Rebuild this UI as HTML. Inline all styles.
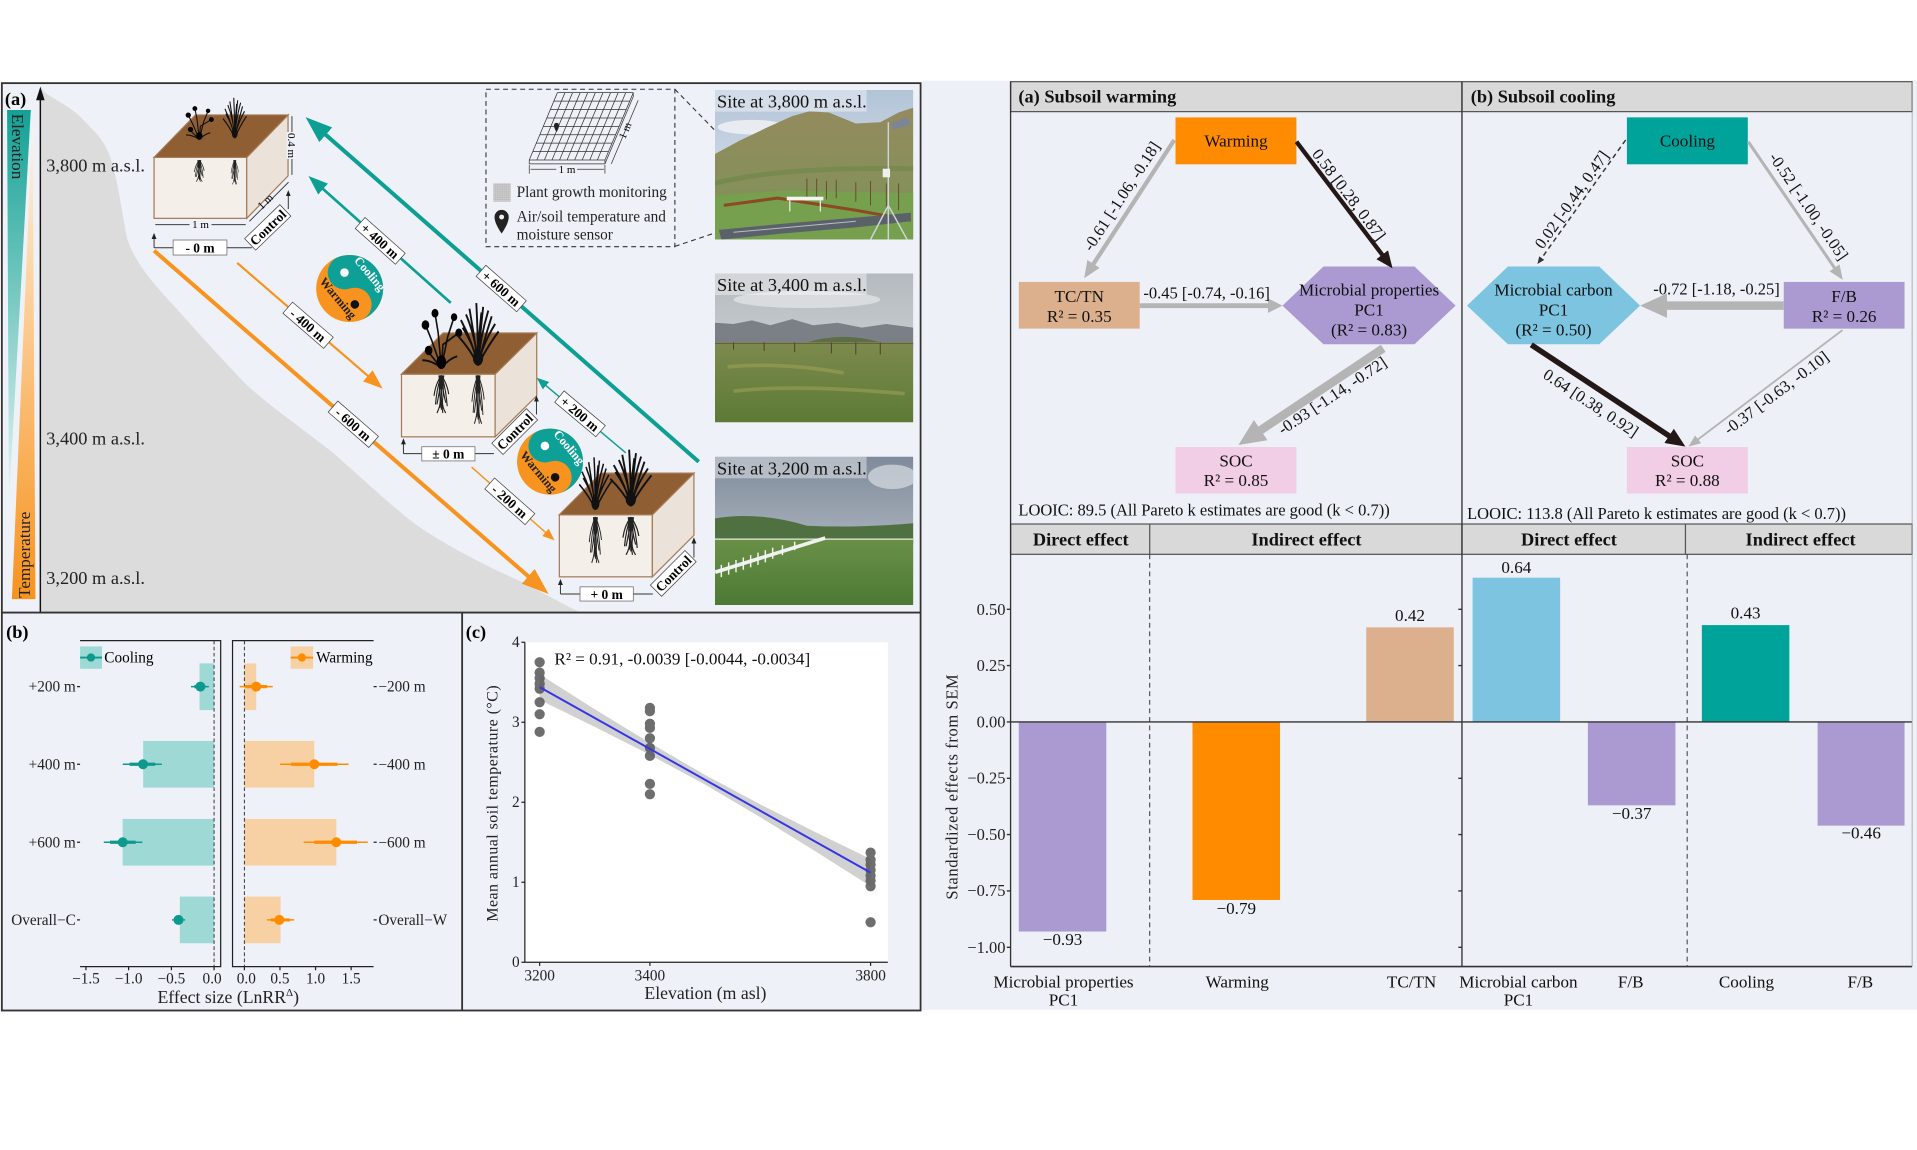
<!DOCTYPE html>
<html><head><meta charset="utf-8"><title>Figure</title>
<style>html,body{margin:0;padding:0;background:#fff;overflow:hidden}svg{display:block}</style>
</head><body>
<svg xmlns="http://www.w3.org/2000/svg" width="1917" height="1150" viewBox="0 0 1568 940.6" preserveAspectRatio="none" font-family="'Liberation Serif','Times New Roman',serif">
<defs>
<linearGradient id="gTeal" x1="0" y1="0" x2="0" y2="1"><stop offset="0" stop-color="#14a195"/><stop offset="1" stop-color="#e6f5f3"/></linearGradient>
<linearGradient id="gOr" x1="0" y1="1" x2="0" y2="0"><stop offset="0" stop-color="#f7931e"/><stop offset="1" stop-color="#fff4e6"/></linearGradient>
<linearGradient id="sky1" x1="0" y1="0" x2="0" y2="1"><stop offset="0" stop-color="#b3c4d8"/><stop offset="1" stop-color="#e2e8ee"/></linearGradient>
<linearGradient id="hill1" x1="0" y1="0" x2="0" y2="1"><stop offset="0" stop-color="#948a5e"/><stop offset=".6" stop-color="#86905a"/><stop offset="1" stop-color="#74954c"/></linearGradient>
<linearGradient id="sky2" x1="0" y1="0" x2="0" y2="1"><stop offset="0" stop-color="#b4babf"/><stop offset="1" stop-color="#dadddf"/></linearGradient>
<linearGradient id="grass2" x1="0" y1="0" x2="0" y2="1"><stop offset="0" stop-color="#7d8a4e"/><stop offset="1" stop-color="#5c7a35"/></linearGradient>
<linearGradient id="sky3" x1="0" y1="0" x2="0" y2="1"><stop offset="0" stop-color="#7f8b9b"/><stop offset=".6" stop-color="#a9b1bc"/><stop offset="1" stop-color="#c5cace"/></linearGradient>
<linearGradient id="grass3" x1="0" y1="0" x2="0" y2="1"><stop offset="0" stop-color="#6a9047"/><stop offset="1" stop-color="#4c7a34"/></linearGradient>
<pattern id="pg" width="1.6" height="1.6" patternUnits="userSpaceOnUse"><path d="M0,0H1.6M0,0V1.6" stroke="#8a8a8a" stroke-width=".4"/></pattern>
<clipPath id="cp1"><rect x="584.8" y="73.6" width="162.2" height="122.2"/></clipPath>
<clipPath id="cp2"><rect x="584.8" y="223.6" width="162.2" height="121.8"/></clipPath>
<clipPath id="cp3"><rect x="584.8" y="373.5" width="162.2" height="121.3"/></clipPath>
<marker id="mT1" viewBox="0 0 10 10" refX="5" refY="5" markerWidth="22" markerHeight="16" markerUnits="userSpaceOnUse" orient="auto" preserveAspectRatio="none"><path d="M0,0L10,5L0,10z" fill="#0e9f94"/></marker>
<marker id="mT2" viewBox="0 0 10 10" refX="5" refY="5" markerWidth="16" markerHeight="12" markerUnits="userSpaceOnUse" orient="auto" preserveAspectRatio="none"><path d="M0,0L10,5L0,10z" fill="#0e9f94"/></marker>
<marker id="mT3" viewBox="0 0 10 10" refX="5" refY="5" markerWidth="10" markerHeight="8" markerUnits="userSpaceOnUse" orient="auto" preserveAspectRatio="none"><path d="M0,0L10,5L0,10z" fill="#0e9f94"/></marker>
<marker id="mO1" viewBox="0 0 10 10" refX="5" refY="5" markerWidth="22" markerHeight="16" markerUnits="userSpaceOnUse" orient="auto" preserveAspectRatio="none"><path d="M0,0L10,5L0,10z" fill="#f7931e"/></marker>
<marker id="mO2" viewBox="0 0 10 10" refX="5" refY="5" markerWidth="16" markerHeight="12" markerUnits="userSpaceOnUse" orient="auto" preserveAspectRatio="none"><path d="M0,0L10,5L0,10z" fill="#f7931e"/></marker>
<marker id="mO3" viewBox="0 0 10 10" refX="5" refY="5" markerWidth="10" markerHeight="8" markerUnits="userSpaceOnUse" orient="auto" preserveAspectRatio="none"><path d="M0,0L10,5L0,10z" fill="#f7931e"/></marker>
<marker id="mG1" viewBox="0 0 10 10" refX="5" refY="5" markerWidth="14" markerHeight="12" markerUnits="userSpaceOnUse" orient="auto" preserveAspectRatio="none"><path d="M0,0L10,5L0,10z" fill="#b4b4b4"/></marker>
<marker id="mG2" viewBox="0 0 10 10" refX="5" refY="5" markerWidth="12" markerHeight="12" markerUnits="userSpaceOnUse" orient="auto" preserveAspectRatio="none"><path d="M0,0L10,5L0,10z" fill="#b4b4b4"/></marker>
<marker id="mG3" viewBox="0 0 10 10" refX="5" refY="5" markerWidth="22" markerHeight="20" markerUnits="userSpaceOnUse" orient="auto" preserveAspectRatio="none"><path d="M0,0L10,5L0,10z" fill="#b4b4b4"/></marker>
<marker id="mG4" viewBox="0 0 10 10" refX="5" refY="5" markerWidth="12" markerHeight="10" markerUnits="userSpaceOnUse" orient="auto" preserveAspectRatio="none"><path d="M0,0L10,5L0,10z" fill="#b4b4b4"/></marker>
<marker id="mG5" viewBox="0 0 10 10" refX="5" refY="5" markerWidth="10" markerHeight="8" markerUnits="userSpaceOnUse" orient="auto" preserveAspectRatio="none"><path d="M0,0L10,5L0,10z" fill="#b4b4b4"/></marker>
<marker id="mK1" viewBox="0 0 10 10" refX="5" refY="5" markerWidth="14" markerHeight="12" markerUnits="userSpaceOnUse" orient="auto" preserveAspectRatio="none"><path d="M0,0L10,5L0,10z" fill="#231815"/></marker>
<marker id="mK2" viewBox="0 0 10 10" refX="5" refY="5" markerWidth="16" markerHeight="14" markerUnits="userSpaceOnUse" orient="auto" preserveAspectRatio="none"><path d="M0,0L10,5L0,10z" fill="#231815"/></marker>
<marker id="mD" viewBox="0 0 10 10" refX="5" refY="5" markerWidth="6" markerHeight="5" markerUnits="userSpaceOnUse" orient="auto" preserveAspectRatio="none"><path d="M0,0L10,5L0,10z" fill="#333"/></marker>
<marker id="mS" viewBox="0 0 10 10" refX="5" refY="5" markerWidth="5" markerHeight="4" markerUnits="userSpaceOnUse" orient="auto" preserveAspectRatio="none"><path d="M0,0L10,5L0,10z" fill="#222"/></marker>
<g id="grass"><path d="M0,0 Q-3,-12 -10,-24 M0,0 Q-2,-15 -5,-30 M0,0 Q0,-16 -1,-33 M0,0 Q1,-15 3,-31 M0,0 Q3,-12 8,-26 M0,0 Q4,-8 12,-18 M0,0 Q-4,-8 -12,-16 M0,0 Q1,-14 6,-29 M0,0 Q-1,-14 -7,-27 M0,0 Q-2,-10 -9,-20 M0,0 Q2,-10 10,-22 M0,0 Q0,-12 2,-28" stroke="#111" stroke-width="1.1" fill="none"/><ellipse cx="0" cy="-4" rx="3" ry="4" fill="#111"/></g>
<g id="flower"><path d="M0,0 L-6,-14 L-10,-22 M0,0 L-2,-18 L-4,-28 M0,0 L4,-16 L8,-26 M0,0 L1,-12 L11,-18 M0,0 L-8,-8 M0,0 Q-6,-4 -12,-4 M0,0 Q5,-5 10,-6" stroke="#111" stroke-width="1" fill="none"/><circle cx="-10" cy="-22" r="2.4"/><circle cx="-4" cy="-28" r="2.2"/><circle cx="8" cy="-26" r="2"/><circle cx="11" cy="-18" r="2.2"/><circle cx="-8" cy="-9" r="2.4"/><ellipse cx="0" cy="-3" rx="3" ry="3.5"/></g>
<g id="roots"><path d="M0,0 q-2,6 -1,12 q1,5 -2,10 M0,0 q2,6 1,13 q-1,5 2,9 M0,0 q0,8 0,20 M0,0 q-4,5 -5,12 M0,0 q4,5 5,11 M0,0 q-1,9 -3,17 M0,0 q1,9 3,16 M0,0 q-3,7 -4,17 M0,0 q3,7 4,18 M0,0 q-1,10 1,22 M0,0 q1,8 -1,19" stroke="#222" stroke-width=".75" fill="none"/><path d="M-2,0 L2,0 L1,8 L-1,8 Z" fill="#222"/></g>
</defs>

<!-- ============ LEFT FIGURE ============ -->
<rect x="1.5" y="68" width="751.5" height="758.5" fill="#eef2f8"/>
<path d="M33,70 L36,75 C45,82 60,88 70,100 C80,110 88,118 92,135 C97,152 100,175 104,195 C110,215 128,235 145,253 C160,270 180,292 199,312 C215,328 240,345 272,370 C295,390 318,412 340,429 C365,446 395,462 427,476 C445,485 460,494 475,501 L33,501 Z" fill="#dcdcdc"/>
<polygon points="5.8,90 25.2,90 7.3,411" fill="url(#gTeal)"/>
<polygon points="9.7,490 29,490 26.7,98.7" fill="url(#gOr)"/>
<text transform="translate(10,93) rotate(90)" font-size="14" fill="#222">Elevation</text>
<text transform="translate(24.4,489) rotate(-90)" font-size="14" fill="#222">Temperature</text>
<line x1="33" y1="501" x2="33" y2="80" stroke="#111" stroke-width="1.2"/>
<polygon points="33,71 29.5,82 36.5,82" fill="#111"/>
<text x="4" y="86" font-size="15" font-weight="bold">(a)</text>
<text x="37.8" y="140.2" font-size="15" fill="#222">3,800 m a.s.l.</text>
<text x="37.8" y="363.7" font-size="15" fill="#222">3,400 m a.s.l.</text>
<text x="37.8" y="477.6" font-size="15" fill="#222">3,200 m a.s.l.</text>

<!-- arrows -->
<line x1="571.5" y1="377.7" x2="258.2" y2="103" stroke="#0e9f94" stroke-width="3.3" marker-end="url(#mT1)"/>
<line x1="368.7" y1="247.7" x2="258.3" y2="149.3" stroke="#0e9f94" stroke-width="2.2" marker-end="url(#mT2)"/>
<line x1="511.8" y1="370.4" x2="442.8" y2="312.2" stroke="#0e9f94" stroke-width="1.2" marker-end="url(#mT3)"/>
<line x1="126" y1="205" x2="440.4" y2="478.6" stroke="#f7931e" stroke-width="3.3" marker-end="url(#mO1)"/>
<line x1="194" y1="215" x2="306.9" y2="312.6" stroke="#f7931e" stroke-width="1.8" marker-end="url(#mO2)"/>
<line x1="385.7" y1="382" x2="449.9" y2="438.7" stroke="#f7931e" stroke-width="1.2" marker-end="url(#mO3)"/>

<!-- cubes -->
<g stroke="#a57a55" stroke-width="1">
<rect x="126" y="128.7" width="75.8" height="49.9" fill="#f4efe9"/>
<polygon points="201.8,128.7 235.6,94 235.6,143.9 201.8,178.6" fill="#ebe3da"/>
<polygon points="126,128.7 201.8,128.7 235.6,94 159.8,94" fill="#8f5e32"/>
<rect x="328.4" y="306" width="76.6" height="51.3" fill="#f4efe9"/>
<polygon points="405,306 439,272.4 439,323.7 405,357.3" fill="#ebe3da"/>
<polygon points="328.4,306 405,306 439,272.4 362.4,272.4" fill="#8f5e32"/>
<rect x="457.5" y="421" width="76.1" height="50.8" fill="#f4efe9"/>
<polygon points="533.6,421 567.6,387 567.6,437.8 533.6,471.8" fill="#ebe3da"/>
<polygon points="457.5,421 533.6,421 567.6,387 491.5,387" fill="#8f5e32"/>
</g>
<!-- plants -->
<use href="#flower" transform="translate(163,114) scale(0.9)"/>
<use href="#grass" transform="translate(192,113) scale(0.8,1)"/>
<use href="#roots" transform="translate(163,131) scale(0.8)"/>
<use href="#roots" transform="translate(192,131) scale(0.6,0.9)"/>
<use href="#flower" transform="translate(361,301) scale(1.3,1.6)"/>
<use href="#grass" transform="translate(391,299) scale(1.4,1.55)"/>
<use href="#roots" transform="translate(361,307) scale(1.2,1.4)"/>
<use href="#roots" transform="translate(391,307) scale(1,1.8)"/>
<use href="#grass" transform="translate(487,417) scale(1.1,1.3)"/>
<use href="#grass" transform="translate(516,414) scale(1.4)"/>
<use href="#roots" transform="translate(487,423) scale(1,1.7)"/>
<use href="#roots" transform="translate(516,423) scale(1.3,1.4)"/>

<!-- cube dims -->
<g stroke="#222" stroke-width=".7" fill="none">
<line x1="127" y1="183.8" x2="201" y2="183.8"/>
<line x1="238.8" y1="95" x2="238.8" y2="143"/>
<line x1="204" y1="181" x2="236" y2="149"/>
</g>
<rect x="155" y="179.5" width="18" height="8" fill="#eef2f8"/>
<text x="164" y="186.5" font-size="9" text-anchor="middle">1 m</text>
<rect x="234.5" y="108" width="8.5" height="22" fill="#eef2f8"/>
<text transform="translate(235.5,119) rotate(90)" font-size="9" text-anchor="middle">0.4 m</text>
<text transform="translate(219,167) rotate(-44)" font-size="9" text-anchor="middle">1 m</text>
<!-- brackets -->
<g stroke="#333" stroke-width=".8" fill="none">
<path d="M126,202.6 H142 M185.6,202.6 H206"/>
<line x1="126" y1="202.6" x2="126" y2="193" marker-end="url(#mS)"/>
<line x1="235.8" y1="171" x2="235.8" y2="158" marker-end="url(#mS)"/>
<path d="M330,371 H345 M388.5,371 H404"/>
<line x1="330" y1="371" x2="330" y2="361" marker-end="url(#mS)"/>
<line x1="438.8" y1="339" x2="438.8" y2="326" marker-end="url(#mS)"/>
<path d="M458.4,485.8 H474.4 M518,485.8 H534"/>
<line x1="458.4" y1="485.8" x2="458.4" y2="476" marker-end="url(#mS)"/>
<line x1="567.6" y1="456" x2="567.6" y2="442" marker-end="url(#mS)"/>
</g>
<g font-weight="bold" font-size="11">
<rect x="141.6" y="196.3" width="44" height="12.3" fill="#fff" stroke="#666" stroke-width=".6"/>
<text x="163.6" y="206.5" text-anchor="middle">- 0 m</text>
<rect x="345" y="365.4" width="43.5" height="11.6" fill="#fff" stroke="#666" stroke-width=".6"/>
<text x="366.7" y="375" text-anchor="middle">± 0 m</text>
<rect x="474.4" y="480" width="43.6" height="11.6" fill="#fff" stroke="#666" stroke-width=".6"/>
<text x="496.2" y="489.8" text-anchor="middle">+ 0 m</text>
<g transform="translate(219,186) rotate(-44)"><rect x="-20" y="-6.5" width="40" height="13" fill="#fff" stroke="#444" stroke-width=".6"/><text y="4" text-anchor="middle">Control</text></g>
<g transform="translate(421,353) rotate(-45)"><rect x="-20" y="-6.5" width="40" height="13" fill="#fff" stroke="#444" stroke-width=".6"/><text y="4" text-anchor="middle">Control</text></g>
<g transform="translate(550.7,469) rotate(-45)"><rect x="-20" y="-6.5" width="40" height="13" fill="#fff" stroke="#444" stroke-width=".6"/><text y="4" text-anchor="middle">Control</text></g>
<g transform="translate(410,236) rotate(41.2)"><rect x="-22" y="-6" width="44" height="12" fill="#fff" stroke="#444" stroke-width=".6"/><text y="4" text-anchor="middle">+ 600 m</text></g>
<g transform="translate(311,197) rotate(41.7)"><rect x="-22" y="-6" width="44" height="12" fill="#fff" stroke="#444" stroke-width=".6"/><text y="4" text-anchor="middle">+ 400 m</text></g>
<g transform="translate(474.4,338.5) rotate(40.1)"><rect x="-22" y="-6" width="44" height="12" fill="#fff" stroke="#444" stroke-width=".6"/><text y="4" text-anchor="middle">+ 200 m</text></g>
<g transform="translate(289,347) rotate(41)"><rect x="-22" y="-6" width="44" height="12" fill="#fff" stroke="#444" stroke-width=".6"/><text y="4" text-anchor="middle">- 600 m</text></g>
<g transform="translate(252,266) rotate(40.8)"><rect x="-22" y="-6" width="44" height="12" fill="#fff" stroke="#444" stroke-width=".6"/><text y="4" text-anchor="middle">- 400 m</text></g>
<g transform="translate(417,410) rotate(41.5)"><rect x="-22" y="-6" width="44" height="12" fill="#fff" stroke="#444" stroke-width=".6"/><text y="4" text-anchor="middle">- 200 m</text></g>
</g>
<!-- yin yang -->
<g transform="translate(286,236) rotate(-18)">
<circle r="27.4" fill="#f7931e"/>
<path d="M0,-27.4 A27.4,27.4 0 0 1 0,27.4 A13.7,13.7 0 0 0 0,0 A13.7,13.7 0 0 1 0,-27.4 Z" fill="#0ea096"/>
<circle cy="-13.7" r="3.5" fill="#fff"/><circle cy="13.7" r="3.5" fill="#111"/>
</g>
<text transform="translate(300,226) rotate(50)" font-size="10" font-weight="bold" fill="#fff" text-anchor="middle">Cooling</text>
<text transform="translate(274,246) rotate(50)" font-size="10" font-weight="bold" fill="#222" text-anchor="middle">Warming</text>
<g transform="translate(449.9,377.6) rotate(-18)">
<circle r="27" fill="#f7931e"/>
<path d="M0,-27 A27,27 0 0 1 0,27 A13.5,13.5 0 0 0 0,0 A13.5,13.5 0 0 1 0,-27 Z" fill="#0ea096"/>
<circle cy="-13.5" r="3.5" fill="#fff"/><circle cy="13.5" r="3.5" fill="#111"/>
</g>
<text transform="translate(463,368) rotate(50)" font-size="10" font-weight="bold" fill="#fff" text-anchor="middle">Cooling</text>
<text transform="translate(438,388) rotate(50)" font-size="10" font-weight="bold" fill="#222" text-anchor="middle">Warming</text>

<!-- inset -->
<rect x="397.5" y="73" width="154.5" height="128.8" fill="none" stroke="#333" stroke-width=".9" stroke-dasharray="4 3"/>
<path d="M552,73 L624,147 M552,201.5 L584,190.8" stroke="#333" stroke-width=".9" stroke-dasharray="4 3" fill="none"/>
<path d="M455.9,75.8L432.9,130.9M462.1,75.8L439.1,130.9M468.3,75.8L445.3,130.9M474.5,75.8L451.5,130.9M480.7,75.8L457.7,130.9M486.95,75.8L463.85,130.9M493.2,75.8L470,130.9M499.4,75.8L476.2,130.9M505.6,75.8L482.4,130.9M511.8,75.8L488.6,130.9M518,75.8L494.8,130.9M455.9,75.8H518M453,82.7H515.1M450.15,89.6H512.2M447.3,96.5H509.3M444.4,103.35H506.4M441.5,110.2H503.5M438.65,117.1H500.6M435.8,124H497.7M432.9,130.9H494.8M432.9,130.9V134H494.8V130.9M494.8,134L518,79V75.8" stroke="#333" stroke-width=".6" fill="none"/>
<path d="M455.2,108 C452.5,104 452.4,100.5 455.2,100.5 C458,100.5 457.9,104 455.2,108 Z" fill="#222"/>
<g stroke="#333" stroke-width=".6" fill="none"><path d="M432.9,135V142M494.8,135V142M434,138.4H455M472,138.4H494"/><path d="M522,82L500,134"/></g>
<text x="463.8" y="141.5" font-size="9" text-anchor="middle">1 m</text>
<text transform="translate(514,108) rotate(-67)" font-size="9" text-anchor="middle">1 m</text>
<rect x="403.5" y="150" width="14.2" height="15" fill="#d6d6d6"/>
<rect x="403.5" y="150" width="14.2" height="15" fill="url(#pg)"/>
<text x="422.6" y="161" font-size="12.5" fill="#222">Plant growth monitoring</text>
<path d="M410.3,191 C405.5,184 404.5,180 404.5,177.5 A5.8,5.8 0 0 1 416.1,177.5 C416.1,180 415.1,184 410.3,191 Z" fill="#222"/>
<circle cx="410.3" cy="177.5" r="2" fill="#eef2f8"/>
<text x="422.6" y="181" font-size="12.5" fill="#222">Air/soil temperature and</text>
<text x="422.6" y="196" font-size="12.5" fill="#222">moisture sensor</text>

<!-- photo 1 -->
<g clip-path="url(#cp1)">
<rect x="584.8" y="73.6" width="162.2" height="122.2" fill="url(#sky1)"/>
<ellipse cx="615" cy="104" rx="28" ry="6" fill="#f2f4f6" opacity=".8"/>
<path d="M584.8,126 L605,115 L628,104 L648,95 L662,91 L678,92 L700,101 L720,100 L735,92 L747,88 L747,196 L584.8,196 Z" fill="url(#hill1)"/>
<path d="M584.8,150 Q640,136 747,138" stroke="#6d8746" stroke-width="4" fill="none" opacity=".6"/>
<path d="M584.8,160 L640,156 L747,158 L747,196 L584.8,196 Z" fill="#76a04e"/>
<path d="M660,146V162M668,146V161M676,148V163M684,147V162M700,149V165M712,148V168M725,150V170M735,150V172" stroke="#6a4a30" stroke-width=".8"/>
<path d="M592,168 L636,162 L700,172 L745,180" stroke="#8c4a24" stroke-width="2.5" fill="none"/>
<path d="M588,188 L640,183 L700,178 L745,174 L745,181 L700,186 L640,191 L590,196 Z" fill="#5a6169"/>
<path d="M600,190 L700,181" stroke="#b8bec6" stroke-width=".8"/>
<rect x="643.5" y="160.9" width="30" height="3" fill="#f4f4f4"/>
<path d="M646,164V173M671,164V173" stroke="#eee" stroke-width="1"/>
<path d="M726.6,100V196M726.6,168L712,196M726.6,168L742,196" stroke="#d0d4d8" stroke-width="1.2"/>
<rect x="722" y="138" width="6" height="7" fill="#f0f0f0"/>
<path d="M728,101 L742,96 L745,102 L731,106 Z" fill="#7a8696"/>
</g>
<rect x="584.8" y="73.6" width="124" height="17.7" fill="#fff" opacity=".4"/>
<text x="586.5" y="88" font-size="15" fill="#111">Site at 3,800 m a.s.l.</text>
<!-- photo 2 -->
<g clip-path="url(#cp2)">
<rect x="584.8" y="223.6" width="162.2" height="121.8" fill="url(#sky2)"/>
<ellipse cx="660" cy="245" rx="60" ry="7" fill="#eceef0" opacity=".6"/>
<path d="M584.8,264 L600,265 L615,262 L630,266 L648,261 L665,266 L685,264 L705,268 L725,265 L747,268 L747,285 L584.8,285 Z" fill="#7b7f86"/>
<path d="M660,280 Q690,271 720,280 Z" fill="#5d6e45"/>
<rect x="584.8" y="280" width="162.2" height="66" fill="url(#grass2)"/>
<path d="M584.8,281H747" stroke="#5a4a3a" stroke-width=".6"/>
<path d="M600,280V286M625,280V287M650,280V288M680,280V289M700,280V290M720,280V290" stroke="#4e3f30" stroke-width=".8"/>
<path d="M595,300 Q640,296 690,305 M600,320 Q650,314 740,322" stroke="#a4a55a" stroke-width="3" fill="none" opacity=".5"/>
</g>
<rect x="584.8" y="223.6" width="124" height="17.7" fill="#fff" opacity=".4"/>
<text x="586.5" y="238" font-size="15" fill="#111">Site at 3,400 m a.s.l.</text>
<!-- photo 3 -->
<g clip-path="url(#cp3)">
<rect x="584.8" y="373.5" width="162.2" height="121.3" fill="url(#sky3)"/>
<ellipse cx="730" cy="390" rx="20" ry="10" fill="#d8dde3" opacity=".7"/>
<path d="M584.8,424 Q620,418 660,430 Q700,432 747,428 L747,445 L584.8,445 Z" fill="#4f7040"/>
<rect x="584.8" y="440" width="162.2" height="55" fill="url(#grass3)"/>
<path d="M584.8,441H747" stroke="#e8e8e8" stroke-width="1"/>
<path d="M585,468 L675,440" stroke="#f0f0f0" stroke-width="3"/>
<path d="M590,462V472M596,460V470M602,458V468M608,456V466M614,454V464M620,452V462M626,450V460M632,448V457M640,446V454M650,443V450" stroke="#f4f4f4" stroke-width="1.2"/>
</g>
<rect x="584.8" y="373.5" width="124" height="17.7" fill="#fff" opacity=".4"/>
<text x="586.5" y="388" font-size="15" fill="#111">Site at 3,200 m a.s.l.</text>

<!-- frames -->
<rect x="1.5" y="68" width="751.5" height="758.5" fill="none" stroke="#333" stroke-width="1.5"/>
<line x1="1.5" y1="501" x2="753" y2="501" stroke="#333" stroke-width="1.5"/>
<line x1="378" y1="501" x2="378" y2="826.5" stroke="#333" stroke-width="1.5"/>

<!-- ============ PANEL B ============ -->
<text x="5" y="522" font-size="15" font-weight="bold">(b)</text>
<g fill="#9fd9d6">
<rect x="163.2" y="542.6" width="11.9" height="38.2"/>
<rect x="117.1" y="606" width="58" height="38.2"/>
<rect x="100.3" y="669.8" width="74.8" height="38.2"/>
<rect x="147.1" y="733.3" width="28" height="38.2"/>
</g>
<g fill="#f7d1a4">
<rect x="199.9" y="542.6" width="9.7" height="38.2"/>
<rect x="199.9" y="606" width="57.2" height="38.2"/>
<rect x="199.9" y="669.8" width="75.2" height="38.2"/>
<rect x="199.9" y="733.3" width="29.6" height="38.2"/>
</g>
<g stroke="#222" stroke-width="1" fill="none">
<path d="M65.5,524H180.5V790.6H65.5"/>
<path d="M305.6,524H190.2V790.6H305.6"/>
<path d="M70.3,790.6v3M105.2,790.6v3M140.2,790.6v3M175.1,790.6v3M199.9,790.6v3M229,790.6v3M258.1,790.6v3M287.2,790.6v3"/>
<path d="M63,561.6h2.5M63,625.1h2.5M63,688.9h2.5M63,752.4h2.5M305.6,561.6h2.5M305.6,625.1h2.5M305.6,688.9h2.5M305.6,752.4h2.5"/>
</g>
<g stroke="#333" stroke-width=".8" stroke-dasharray="3 2"><line x1="175.1" y1="524" x2="175.1" y2="790.6"/><line x1="199.9" y1="524" x2="199.9" y2="790.6"/></g>
<rect x="65.5" y="528.7" width="17.9" height="18.3" fill="#9fd9d6"/>
<line x1="65.5" y1="537.8" x2="83.4" y2="537.8" stroke="#0d9a8e" stroke-width="1.5"/><circle cx="74.4" cy="537.8" r="3.4" fill="#0d9a8e"/>
<text x="85.3" y="542" font-size="12.5">Cooling</text>
<rect x="237.7" y="528.7" width="18.4" height="18.3" fill="#f7d1a4"/>
<line x1="237.7" y1="537.8" x2="256.1" y2="537.8" stroke="#ff8c00" stroke-width="1.5"/><circle cx="246.9" cy="537.8" r="3.4" fill="#ff8c00"/>
<text x="258.6" y="542" font-size="12.5">Warming</text>
<g stroke="#0d9a8e">
<line x1="156.2" y1="561.6" x2="170.8" y2="561.6" stroke-width="1.2"/><line x1="159" y1="561.6" x2="168" y2="561.6" stroke-width="2.6"/>
<line x1="100.4" y1="625.1" x2="132.4" y2="625.1" stroke-width="1.2"/><line x1="106" y1="625.1" x2="127" y2="625.1" stroke-width="2.6"/>
<line x1="84.9" y1="688.9" x2="116.4" y2="688.9" stroke-width="1.2"/><line x1="90" y1="688.9" x2="111" y2="688.9" stroke-width="2.6"/>
<line x1="140.7" y1="752.4" x2="151.4" y2="752.4" stroke-width="1.2"/><line x1="142.5" y1="752.4" x2="149.5" y2="752.4" stroke-width="2.6"/>
</g>
<g fill="#0d9a8e"><circle cx="163.9" cy="561.6" r="4.1"/><circle cx="117" cy="625.1" r="4.1"/><circle cx="100.4" cy="688.9" r="4.1"/><circle cx="146" cy="752.4" r="4.1"/></g>
<g stroke="#ff8c00">
<line x1="196" y1="561.6" x2="223.1" y2="561.6" stroke-width="1.2"/><line x1="200.5" y1="561.6" x2="218.5" y2="561.6" stroke-width="2.6"/>
<line x1="229" y1="625.1" x2="285.2" y2="625.1" stroke-width="1.2"/><line x1="238" y1="625.1" x2="276" y2="625.1" stroke-width="2.6"/>
<line x1="248.4" y1="688.9" x2="300.8" y2="688.9" stroke-width="1.2"/><line x1="257" y1="688.9" x2="292" y2="688.9" stroke-width="2.6"/>
<line x1="218.3" y1="752.4" x2="240.6" y2="752.4" stroke-width="1.2"/><line x1="221.5" y1="752.4" x2="237" y2="752.4" stroke-width="2.6"/>
</g>
<g fill="#ff8c00"><circle cx="209.6" cy="561.6" r="4.1"/><circle cx="257.1" cy="625.1" r="4.1"/><circle cx="275.1" cy="688.9" r="4.1"/><circle cx="228.5" cy="752.4" r="4.1"/></g>
<g font-size="12.5" fill="#222">
<text x="62" y="565.8" text-anchor="end">+200 m</text>
<text x="62" y="629.3" text-anchor="end">+400 m</text>
<text x="62" y="693.1" text-anchor="end">+600 m</text>
<text x="62" y="756.6" text-anchor="end">Overall−C</text>
<text x="309.5" y="565.8">−200 m</text>
<text x="309.5" y="629.3">−400 m</text>
<text x="309.5" y="693.1">−600 m</text>
<text x="309.5" y="756.6">Overall−W</text>
<g text-anchor="middle">
<text x="70.3" y="804.5">−1.5</text><text x="105.2" y="804.5">−1.0</text><text x="140.2" y="804.5">−0.5</text><text x="173.5" y="804.5">0.0</text>
<text x="201.5" y="804.5">0.0</text><text x="229" y="804.5">0.5</text><text x="258.1" y="804.5">1.0</text><text x="287.2" y="804.5">1.5</text>
</g>
</g>
<text x="186.7" y="820.5" font-size="14.5" text-anchor="middle" fill="#222">Effect size (LnRR<tspan font-size="9" dy="-6">Δ</tspan><tspan dy="6">)</tspan></text>

<!-- ============ PANEL C ============ -->
<text x="381" y="522" font-size="15" font-weight="bold">(c)</text>
<rect x="429.3" y="525.3" width="296.9" height="261.7" fill="#fff"/>
<path d="M441.4,551.5 L486.5,580.1 L531.6,607.6 L576.8,633.9 L621.9,657.9 L667,680.6 L712.1,702.6 L712.1,724.9 L667,696.3 L621.9,668.4 L576.8,641.8 L531.6,617.4 L486.5,594.5 L441.4,572.4 Z" fill="#c9c9c9" opacity=".85"/>
<g fill="#555" opacity=".85">
<circle cx="441.4" cy="541.7" r="4.2"/><circle cx="441.4" cy="550.2" r="4.2"/><circle cx="441.4" cy="554.8" r="4.2"/><circle cx="441.4" cy="559.3" r="4.2"/><circle cx="441.4" cy="563.3" r="4.2"/><circle cx="441.4" cy="574.4" r="4.2"/><circle cx="441.4" cy="584.2" r="4.2"/><circle cx="441.4" cy="598.6" r="4.2"/>
<circle cx="531.6" cy="579" r="4.2"/><circle cx="531.6" cy="581.6" r="4.2"/><circle cx="531.6" cy="592" r="4.2"/><circle cx="531.6" cy="595.3" r="4.2"/><circle cx="531.6" cy="603.8" r="4.2"/><circle cx="531.6" cy="611.7" r="4.2"/><circle cx="531.6" cy="618.2" r="4.2"/><circle cx="531.6" cy="641.1" r="4.2"/><circle cx="531.6" cy="649.6" r="4.2"/>
<circle cx="712.1" cy="697.4" r="4.2"/><circle cx="712.1" cy="703.3" r="4.2"/><circle cx="712.1" cy="707.2" r="4.2"/><circle cx="712.1" cy="711.8" r="4.2"/><circle cx="712.1" cy="716.3" r="4.2"/><circle cx="712.1" cy="720.3" r="4.2"/><circle cx="712.1" cy="724.9" r="4.2"/><circle cx="712.1" cy="754.3" r="4.2"/>
</g>
<line x1="441.4" y1="562" x2="712.1" y2="713.7" stroke="#3535e8" stroke-width="1.6"/>
<g stroke="#222" stroke-width="1" fill="none">
<path d="M429.3,525.3V787H726.2"/>
<path d="M426.5,787h2.8M426.5,721.6h2.8M426.5,656.2h2.8M426.5,590.7h2.8M426.5,525.3h2.8M441.4,787v3M531.6,787v3M712.1,787v3"/>
</g>
<g font-size="12.5" fill="#222">
<text x="425" y="791" text-anchor="end">0</text><text x="425" y="725.6" text-anchor="end">1</text><text x="425" y="660.2" text-anchor="end">2</text><text x="425" y="594.7" text-anchor="end">3</text><text x="425" y="529.3" text-anchor="end">4</text>
<text x="441.4" y="802" text-anchor="middle">3200</text><text x="531.6" y="802" text-anchor="middle">3400</text><text x="712.1" y="802" text-anchor="middle">3800</text>
</g>
<text x="453.5" y="543.5" font-size="14" fill="#111">R² = 0.91,  -0.0039 [-0.0044, -0.0034]</text>
<text transform="translate(402.6,657) rotate(-90)" x="0" y="4.5" font-size="13" letter-spacing=".4" text-anchor="middle" fill="#222">Mean annual soil temperature (°C)</text>
<text x="577" y="817" font-size="14.5" text-anchor="middle" fill="#222">Elevation (m asl)</text>

<!-- ============ RIGHT FIGURE ============ -->
<rect x="754" y="66" width="814" height="760" fill="#edf1f7"/>
<rect x="826.6" y="66.8" width="737.4" height="24.5" fill="#d9d9d9" stroke="#555" stroke-width="1"/>
<line x1="1195.8" y1="66.8" x2="1195.8" y2="91.3" stroke="#555" stroke-width="1"/>
<text x="833" y="84" font-size="15" font-weight="bold" fill="#111">(a) Subsoil warming</text>
<text x="1203" y="84" font-size="15" font-weight="bold" fill="#111">(b) Subsoil cooling</text>

<rect x="961.5" y="96" width="98.9" height="38.4" fill="#ff8c00"/>
<rect x="833.3" y="230.6" width="98.9" height="38.2" fill="#dcb08c"/>
<polygon points="1049,250 1082.5,218 1157,218 1190.6,250 1157,281.6 1082.5,281.6" fill="#ab9ad2"/>
<rect x="961.5" y="365.6" width="98.9" height="38.1" fill="#f1cde6"/>
<rect x="1330.7" y="96" width="98.9" height="38.4" fill="#00a39a"/>
<polygon points="1199.9,250 1233.4,218 1308.1,218 1341.5,250 1308.1,281.6 1233.4,281.6" fill="#7cc4df"/>
<rect x="1459" y="230.6" width="98.8" height="38.2" fill="#ab9ad2"/>
<rect x="1330.7" y="365.6" width="98.9" height="38.1" fill="#f1cde6"/>
<g font-size="14" fill="#111" text-anchor="middle">
<text x="1011" y="120">Warming</text>
<text x="882.8" y="247">TC/TN</text><text x="882.8" y="263.5">R² = 0.35</text>
<text x="1119.8" y="241.7">Microbial properties</text><text x="1119.8" y="258">PC1</text><text x="1119.8" y="274.4">(R² = 0.83)</text>
<text x="1011" y="381.5">SOC</text><text x="1011" y="397.6">R² = 0.85</text>
<text x="1380.2" y="120">Cooling</text>
<text x="1270.7" y="241.7">Microbial carbon</text><text x="1270.7" y="258">PC1</text><text x="1270.7" y="274.4">(R² = 0.50)</text>
<text x="1508.4" y="247">F/B</text><text x="1508.4" y="263.5">R² = 0.26</text>
<text x="1380.2" y="381.5">SOC</text><text x="1380.2" y="397.6">R² = 0.88</text>
</g>
<line x1="960.5" y1="114.5" x2="890.6" y2="221.7" stroke="#b4b4b4" stroke-width="3.5" marker-end="url(#mG1)"/>
<line x1="1060.4" y1="115.9" x2="1134.8" y2="213.9" stroke="#231815" stroke-width="3.5" marker-end="url(#mK1)"/>
<line x1="932.2" y1="250" x2="1043" y2="250" stroke="#b4b4b4" stroke-width="4" marker-end="url(#mG2)"/>
<line x1="1131.4" y1="284.9" x2="1022.1" y2="357.9" stroke="#b4b4b4" stroke-width="7" marker-end="url(#mG3)"/>
<line x1="1329.7" y1="114.5" x2="1259.3" y2="213.5" stroke="#333" stroke-width="1.2" stroke-dasharray="4 3" marker-end="url(#mD)"/>
<line x1="1430" y1="115.9" x2="1503.9" y2="224" stroke="#b4b4b4" stroke-width="2.5" marker-end="url(#mG4)"/>
<line x1="1459" y1="250" x2="1352.5" y2="250" stroke="#b4b4b4" stroke-width="7" marker-end="url(#mG3)"/>
<line x1="1252.5" y1="282" x2="1371.9" y2="360.9" stroke="#231815" stroke-width="4.5" marker-end="url(#mK2)"/>
<line x1="1507" y1="270" x2="1385" y2="362.3" stroke="#b4b4b4" stroke-width="1.5" marker-end="url(#mG5)"/>
<g font-size="13.5" fill="#111" text-anchor="middle">
<text transform="translate(917.8,160.8) rotate(-56.9)" y="4">-0.61 [-1.06, -0.18]</text>
<text transform="translate(1103,159.5) rotate(52.8)" y="4">0.58 [0.28, 0.87]</text>
<text x="987" y="244">-0.45 [-0.74, -0.16]</text>
<text transform="translate(1090,324) rotate(-33.7)" y="4">-0.93 [-1.14, -0.72]</text>
<text transform="translate(1286,163.6) rotate(-54.6)" y="4">0.02 [-0.44, 0.47]</text>
<text transform="translate(1479,169) rotate(55.6)" y="4">-0.52 [-1.00, -0.05]</text>
<text x="1404" y="241">-0.72 [-1.18, -0.25]</text>
<text transform="translate(1301,330) rotate(33.4)" y="4">0.64 [0.38, 0.92]</text>
<text transform="translate(1453.2,321.7) rotate(-37.1)" y="4">-0.37 [-0.63, -0.10]</text>
</g>
<text x="833" y="421.5" font-size="13.5" fill="#111">LOOIC: 89.5 (All Pareto k estimates are good (k &lt; 0.7))</text>
<text x="1200" y="424.5" font-size="13.5" fill="#111">LOOIC: 113.8 (All Pareto k estimates are good (k &lt; 0.7))</text>

<rect x="826.6" y="428.6" width="737.4" height="24.8" fill="#d9d9d9" stroke="#555" stroke-width="1"/>
<path d="M940.4,428.6V453.4M1195.8,428.6V453.4M1378.6,428.6V453.4" stroke="#555" stroke-width="1"/>
<g font-size="15" font-weight="bold" fill="#111" text-anchor="middle">
<text x="884" y="446">Direct effect</text>
<text x="1068.6" y="446">Indirect effect</text>
<text x="1283.3" y="446">Direct effect</text>
<text x="1472.8" y="446">Indirect effect</text>
</g>
<rect x="833.3" y="590.5" width="71.6" height="171.4" fill="#ab9ad2"/>
<rect x="975.4" y="590.5" width="71.6" height="145.6" fill="#ff8c00"/>
<rect x="1117.5" y="513.1" width="71.6" height="77.4" fill="#dcb08c"/>
<rect x="1204.5" y="472.5" width="71.6" height="118" fill="#7cc4df"/>
<rect x="1298.8" y="590.5" width="71.6" height="68.2" fill="#ab9ad2"/>
<rect x="1392" y="511.3" width="71.6" height="79.2" fill="#00a39a"/>
<rect x="1486.7" y="590.5" width="71.1" height="84.8" fill="#ab9ad2"/>
<g stroke="#333" stroke-width=".8" stroke-dasharray="4 3"><line x1="940.4" y1="453.4" x2="940.4" y2="790.6"/><line x1="1380" y1="453.4" x2="1380" y2="790.6"/></g>
<g stroke="#333" stroke-width="1.1" fill="none">
<line x1="826.6" y1="590.5" x2="1564" y2="590.5"/>
<line x1="826.6" y1="790.6" x2="1564" y2="790.6" stroke-width="1.3"/>
<line x1="826.6" y1="66.8" x2="826.6" y2="790.6"/>
<line x1="1195.8" y1="66.8" x2="1195.8" y2="790.6"/>
<line x1="1564" y1="66.8" x2="1564" y2="790.6" stroke="#999" stroke-width=".6"/>
<path d="M823.5,498.4h3.1M823.5,544.4h3.1M823.5,590.5h3.1M823.5,636.6h3.1M823.5,682.6h3.1M823.5,728.7h3.1M823.5,774.8h3.1M1192.8,498.4h3M1192.8,544.4h3M1192.8,636.6h3M1192.8,682.6h3M1192.8,728.7h3M1192.8,774.8h3"/>
</g>
<g font-size="13.5" fill="#222" text-anchor="end">
<text x="822.5" y="503">0.50</text><text x="822.5" y="549">0.25</text><text x="822.5" y="595">0.00</text><text x="822.5" y="641">−0.25</text><text x="822.5" y="687">−0.50</text><text x="822.5" y="733">−0.75</text><text x="822.5" y="779.3">−1.00</text>
</g>
<text transform="translate(778.7,643.4) rotate(-90)" y="4.5" font-size="13.5" letter-spacing=".5" text-anchor="middle" fill="#222">Standardized effects from SEM</text>
<g font-size="14" fill="#111" text-anchor="middle">
<text x="869.1" y="773">−0.93</text>
<text x="1011.2" y="747.5">−0.79</text>
<text x="1153.3" y="508">0.42</text>
<text x="1240.3" y="468.5">0.64</text>
<text x="1334.6" y="670">−0.37</text>
<text x="1427.8" y="506">0.43</text>
<text x="1522.3" y="686">−0.46</text>
</g>
<g font-size="14" fill="#111" text-anchor="middle">
<text x="869.9" y="807.5">Microbial properties</text><text x="869.9" y="822.5">PC1</text>
<text x="1012" y="807.5">Warming</text>
<text x="1154.6" y="807.5">TC/TN</text>
<text x="1242" y="807.5">Microbial carbon</text><text x="1242" y="822.5">PC1</text>
<text x="1333.8" y="807.5">F/B</text>
<text x="1428.5" y="807.5">Cooling</text>
<text x="1521.7" y="807.5">F/B</text>
</g>
</svg>
</body></html>
